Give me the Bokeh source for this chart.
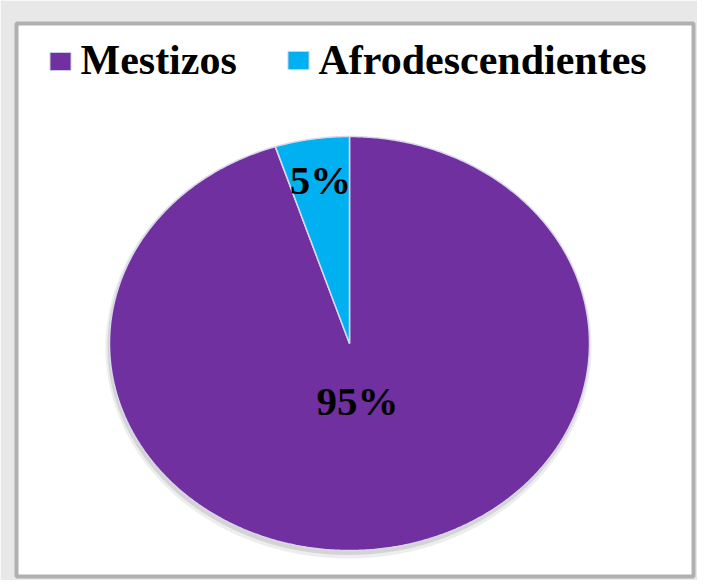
import numpy as np
from bokeh.plotting import figure
from bokeh.models import Range1d, ColumnDataSource
from bokeh.core.properties import value
from bokeh.embed import file_html
from bokeh.resources import INLINE

categories = ["Mestizos", "Afrodescendientes"]
values = [95, 5]
colors = ["#7030A0", "#00B0F0"]
pct_labels = ["95%", "5%"]

# layout (pixels, origin at pie centre)
RX, RY = 240, 207

p = figure(width=697, height=580, output_backend="svg", toolbar_location=None,
           x_range=Range1d(-333, 344), y_range=Range1d(-233, 320),
           min_border_left=16, min_border_top=23, min_border_right=4, min_border_bottom=4)
p.axis.visible = False
p.grid.visible = False
p.background_fill_color = "white"
p.border_fill_color = "#e8e8e8"
p.outline_line_color = "#b0b0b0"
p.outline_line_width = 4

# soft shadow
p.ellipse(x=[-1], y=[-4], width=[2 * RX + 6], height=[2 * RY + 8],
          fill_color="#9a9a9a", fill_alpha=0.18, line_color=None)
p.ellipse(x=[-1], y=[-3], width=[2 * RX + 2], height=[2 * RY + 3],
          fill_color="#8a8a8a", fill_alpha=0.25, line_color=None)

# wedges: clockwise from 12 o'clock
total = float(sum(values))
xs, ys = [], []
start = 90.0
for v in values:
    sweep = 360.0 * v / total
    t = np.radians(np.linspace(start, start - sweep, max(int(sweep * 2), 8)))
    xs.append(np.concatenate([[0.0], RX * np.cos(t), [0.0]]).tolist())
    ys.append(np.concatenate([[0.0], RY * np.sin(t), [0.0]]).tolist())
    start -= sweep

src = ColumnDataSource(dict(xs=xs, ys=ys, color=colors, name=categories))
p.patches("xs", "ys", source=src, fill_color="color", line_color="#d8d8ec", line_width=1.5)

# percentage labels
p.text(x=[8, -29], y=[-57, 164], text=pct_labels, text_align="center", text_baseline="middle",
       text_font=value("Liberation Serif"), text_font_style="bold", text_font_size="41px",
       text_color="black")

# legend
p.rect(x=[-289, -51], y=[282, 283], width=21, height=18, fill_color=colors,
       line_color="#c8cce8", line_width=1)
p.text(x=[-269, -31], y=[284, 284], text=categories, text_align="left",
       text_baseline="middle", text_font=value("Liberation Serif"),
       text_font_style="bold", text_font_size="42px", text_color="black")

open("out.html", "w").write(file_html(p, INLINE))
